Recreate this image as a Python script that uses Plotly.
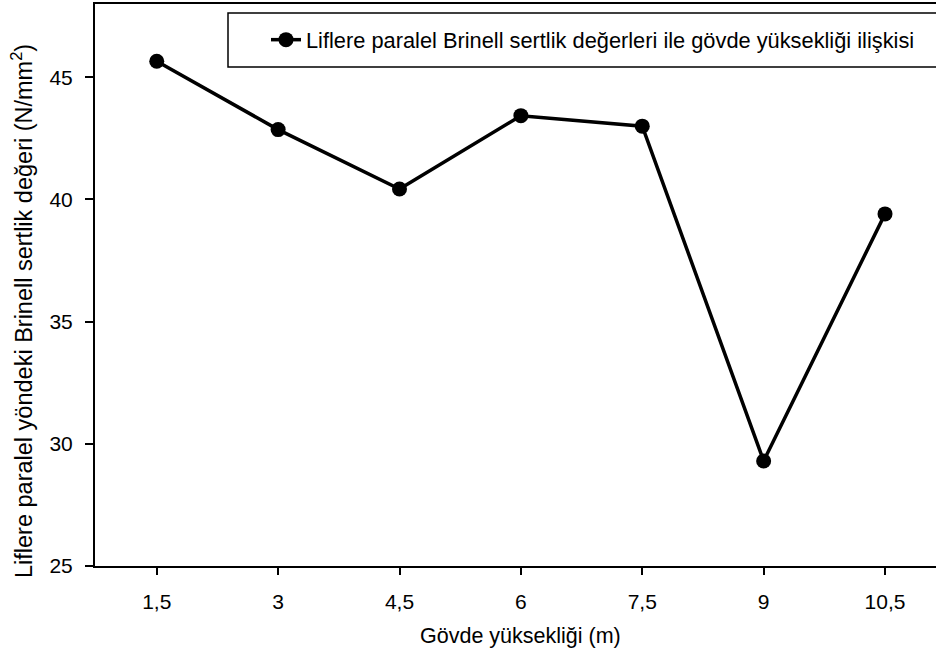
import plotly.graph_objects as go

# Stem height (m) and parallel-to-grain Brinell hardness (N/mm²)
heights = [1.5, 3, 4.5, 6, 7.5, 9, 10.5]
height_labels = ["1,5", "3", "4,5", "6", "7,5", "9", "10,5"]
hardness = [45.66, 42.86, 40.43, 43.43, 43.0, 29.30, 39.41]

y_ticks = [25, 30, 35, 40, 45]

FONT = "Liberation Sans"
W, H = 936, 659
ML, MR, MT, MB = 95, 0, 4, 93
PW, PH = W - ML - MR, H - MT - MB

fig = go.Figure()
fig.add_trace(go.Scatter(
    x=heights, y=hardness, mode="lines+markers",
    name="Liflere paralel Brinell sertlik değerleri ile gövde yüksekliği ilişkisi",
    line=dict(color="black", width=3.5),
    marker=dict(color="black", size=15),
))

# legend frame
fig.add_shape(type="rect", xref="paper", yref="paper",
              x0=(228 - ML) / PW, x1=1.2,
              y0=1 - (67 - MT) / PH, y1=1 - (13 - MT) / PH,
              line=dict(color="black", width=1.5), fillcolor="rgba(0,0,0,0)")

# axis titles
fig.add_annotation(text="Gövde yüksekliği (m)", xref="x", yref="paper",
                   x=6.0, y=-(636 - (H - MB)) / PH,
                   showarrow=False, font=dict(family=FONT, size=21.5, color="black"),
                   xanchor="center", yanchor="middle")
fig.add_annotation(text="Liflere paralel yöndeki Brinell sertlik değeri (N/mm<sup>2</sup>)",
                   xref="paper", yref="paper", textangle=-90,
                   x=(22 - ML) / PW, y=1 - (311 - MT) / PH,
                   showarrow=False, font=dict(family=FONT, size=23.5, color="black"),
                   xanchor="center", yanchor="middle")

fig.update_layout(
    width=W, height=H,
    margin=dict(l=ML, r=MR, t=MT, b=MB),
    paper_bgcolor="white", plot_bgcolor="white",
    font=dict(family=FONT, size=21, color="black"),
    showlegend=True,
    legend=dict(x=(266 - ML) / PW, y=1 - (40 - MT) / PH,
                xanchor="left", yanchor="middle",
                bgcolor="rgba(0,0,0,0)", borderwidth=0,
                font=dict(family=FONT, size=21.8, color="black")),
    xaxis=dict(range=[0.737, 11.13], tickvals=heights, ticktext=height_labels,
               showline=True, linecolor="black", linewidth=2, mirror=True,
               ticks="outside", ticklen=7, tickwidth=2, tickcolor="black",
               showgrid=False, zeroline=False, ticklabelstandoff=9,
               tickfont=dict(family=FONT, size=21)),
    yaxis=dict(range=[25, 48], tickvals=y_ticks,
               showline=True, linecolor="black", linewidth=2, mirror=False,
               ticks="outside", ticklen=8, tickwidth=2, tickcolor="black",
               showgrid=False, zeroline=False, ticklabelstandoff=8,
               tickfont=dict(family=FONT, size=21)),
)

fig.write_html("out.html")
